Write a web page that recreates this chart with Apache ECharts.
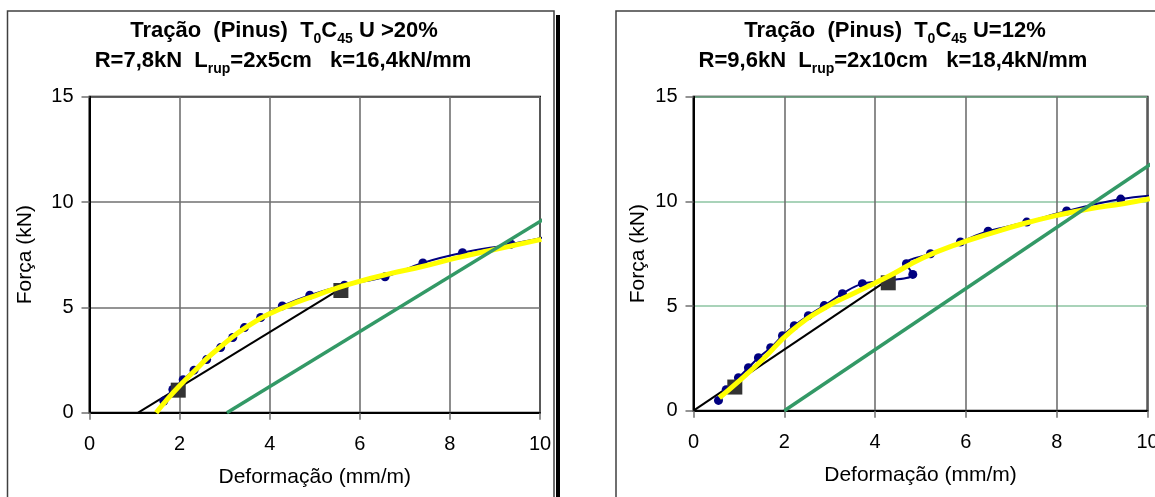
<!DOCTYPE html>
<html><head><meta charset="utf-8">
<script src="https://cdn.jsdelivr.net/npm/echarts@6/dist/echarts.min.js"></script>
<style>html,body{margin:0;padding:0;background:#fff}#c{width:1155px;height:497px}</style>
</head><body><div id="c"></div>
<script>
// ---- axis ticks ----
const xTicks = [0, 2, 4, 6, 8, 10];
const yTicks = [0, 5, 10, 15];
const xAxisTitle = 'Deformação (mm/m)';
const yAxisTitle = 'Força (kN)';

// ---- left chart (U > 20%) ----
const leftMeasured = [[1.65,0.55],[1.85,1.10],[2.08,1.57],[2.32,2.02],[2.60,2.52],[2.91,3.09],[3.18,3.57],[3.44,4.04],[3.80,4.52],[4.28,5.07],[4.89,5.58],[5.66,6.05],[6.56,6.45],[7.40,7.11],[8.28,7.59],[9.36,8.00],[10.15,8.35]];
const leftTrend = [[1.48,0],[1.71,0.60],[2.01,1.30],[2.34,2.00],[2.62,2.60],[2.92,3.15],[3.27,3.75],[3.64,4.28],[4.01,4.71],[4.45,5.12],[4.90,5.47],[5.40,5.85],[5.93,6.20],[6.67,6.60],[7.41,6.95],[8.15,7.35],[8.89,7.70],[10.03,8.23]];
const leftSecant = [[1.08,0],[5.55,5.85]];
const leftOffset = [[3.05,0],[10.13,9.25]];
const leftMarks = [[1.97,1.07],[5.58,5.80]];

// ---- right chart (U = 12%) ----
const rightMeasured = [[0.55,0.49],[0.72,1.00],[0.99,1.58],[1.21,2.05],[1.43,2.53],[1.70,3.01],[1.96,3.58],[2.22,4.06],[2.53,4.54],[2.88,5.02],[3.28,5.59],[3.72,6.07],[4.30,6.22],[4.83,6.51],[4.69,7.02],[5.22,7.50],[5.88,8.06],[6.49,8.57],[7.34,9.01],[8.22,9.54],[9.41,10.11],[10.13,10.29]];
const rightTrend = [[0.57,0.62],[1.02,1.45],[1.54,2.48],[2.13,3.76],[2.86,4.87],[3.59,5.67],[4.33,6.46],[5.06,7.31],[5.80,7.95],[6.53,8.46],[7.26,8.93],[8.00,9.33],[8.73,9.65],[9.46,9.89],[10.05,10.13]];
const rightSecant = [[0,0],[4.25,6.20]];
const rightOffset = [[2.00,0],[10.12,11.85]];
const rightMarks = [[0.91,1.13],[4.29,6.11]];

// ---- titles (main / subscript pieces) ----
const leftTitle1 = [['m','Tração  (Pinus)  T'],['s','0'],['m','C'],['s','45'],['m',' U >20%']];
const leftTitle2 = [['m','R=7,8kN  L'],['s','rup'],['m','=2x5cm   k=16,4kN/mm']];
const rightTitle1 = [['m','Tração  (Pinus)  T'],['s','0'],['m','C'],['s','45'],['m',' U=12%']];
const rightTitle2 = [['m','R=9,6kN  L'],['s','rup'],['m','=2x10cm   k=18,4kN/mm']];

const FONT = "'Liberation Sans', Arial, sans-serif";
const rich = {
  m: {fontSize: 22, fontWeight: 'bold', fontFamily: FONT, color: '#000', padding: [0,0,5,0], verticalAlign: 'bottom'},
  s: {fontSize: 14, fontWeight: 'bold', fontFamily: FONT, color: '#000', verticalAlign: 'bottom'}
};
function richText(parts){ return parts.map(p => '{' + p[0] + '|' + p[1] + '}').join(''); }
function titleEl(parts, x, y){
  return {type:'text', x:x, y:y, z:100, style:{text: richText(parts), rich: rich, align:'center', verticalAlign:'middle', fill:'#000'}};
}

function xAxis(gi){
  return {type:'value', gridIndex: gi, min: xTicks[0], max: xTicks[xTicks.length-1], interval: xTicks[1]-xTicks[0],
    name: xAxisTitle, nameLocation:'middle', nameGap: 54,
    nameTextStyle:{fontSize:21, fontFamily: FONT, color:'#000'},
    axisLine:{show:true, onZero:false, lineStyle:{color:'#000', width:2}},
    axisTick:{show:true, inside:false, length:7, lineStyle:{color:'#707070', width:1.5}},
    axisLabel:{fontSize:20, fontFamily: FONT, color:'#000', margin:22, showMinLabel:true, showMaxLabel:true},
    splitLine:{show:true, lineStyle:{color:'#707070', width:1.6}}};
}
function yAxis(gi, gridColor, gap){
  return {type:'value', gridIndex: gi, min: yTicks[0], max: yTicks[yTicks.length-1], interval: yTicks[1]-yTicks[0],
    name: yAxisTitle, nameLocation:'middle', nameGap: gap, nameRotate: 90,
    nameTextStyle:{fontSize:21, fontFamily: FONT, color:'#000'},
    axisLine:{show:true, onZero:false, lineStyle:{color:'#000', width:2}},
    axisTick:{show:true, inside:false, length:8, lineStyle:{color:'#707070', width:1.5}},
    axisLabel:{fontSize:20, fontFamily: FONT, color:'#000', margin:16, showMinLabel:true, showMaxLabel:true},
    splitLine:{show:true, lineStyle:{color:gridColor, width:1.6}}};
}
function seriesFor(gi, measured, trend, secant, offset, marks){
  const m = measured.map((p, i) => i === measured.length-1 ? {value:p, symbol:'none'} : p);
  return [
    {type:'line', xAxisIndex:gi, yAxisIndex:gi, data: secant, showSymbol:false, symbol:'none', lineStyle:{color:'#000', width:2}, clip:false, z:2},
    {type:'line', xAxisIndex:gi, yAxisIndex:gi, data: m, smooth:0.4, symbol:'circle', symbolSize:9, itemStyle:{color:'#000080'}, lineStyle:{color:'#000080', width:2}, clip:false, z:3},
    {type:'scatter', xAxisIndex:gi, yAxisIndex:gi, data: marks, symbol:'rect', symbolSize:15, itemStyle:{color:'#333333', opacity:1}, z:4},
    {type:'line', xAxisIndex:gi, yAxisIndex:gi, data: trend, smooth:0.5, symbol:'none', lineStyle:{color:'#FFFF00', width:5}, clip:false, z:5},
    {type:'line', xAxisIndex:gi, yAxisIndex:gi, data: offset, symbol:'none', lineStyle:{color:'#339966', width:3.5}, clip:false, z:6}
  ];
}

const chart = echarts.init(document.getElementById('c'), null, {renderer:'canvas'});
chart.setOption({
  animation: false,
  backgroundColor: '#fff',
  grid: [
    {left: 89.5, top: 96.7, width: 450.5, height: 316, show:true, borderColor:'#000', borderWidth:2, backgroundColor:'#fff', containLabel:false, outerBoundsMode:'none'},
    {left: 693.5, top: 96.7, width: 454, height: 314, show:true, borderColor:'#000', borderWidth:2, backgroundColor:'#fff', containLabel:false, outerBoundsMode:'none'}
  ],
  xAxis: [xAxis(0), xAxis(1)],
  yAxis: [yAxis(0, '#707070', 54), yAxis(1, '#8cc5a2', 45)],
  series: [].concat(
    seriesFor(0, leftMeasured, leftTrend, leftSecant, leftOffset, leftMarks),
    seriesFor(1, rightMeasured, rightTrend, rightSecant, rightOffset, rightMarks)
  ),
  graphic: [
    {type:'rect', z:-1, shape:{x:7.5, y:11, width:546.5, height:500}, style:{fill:'none', stroke:'#404040', lineWidth:1.5}},
    {type:'rect', z:-1, shape:{x:556, y:15, width:4, height:490}, style:{fill:'#000'}},
    {type:'rect', z:-1, shape:{x:616, y:11, width:600, height:500}, style:{fill:'none', stroke:'#404040', lineWidth:1.5}},
    titleEl(leftTitle1, 284, 33),
    titleEl(leftTitle2, 283, 63),
    titleEl(rightTitle1, 895, 33),
    titleEl(rightTitle2, 893, 63)
  ]
});
</script></body></html>
